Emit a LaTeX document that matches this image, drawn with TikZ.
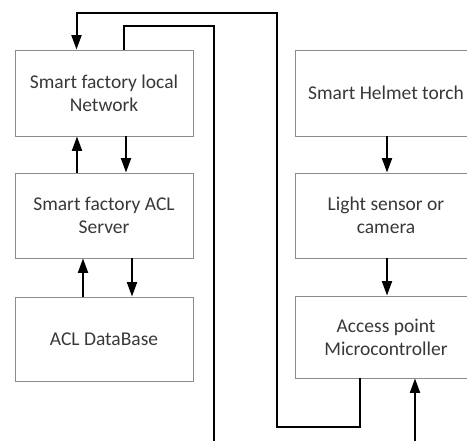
\documentclass[tikz,border=0pt]{standalone}
\usepackage{fontspec}
\setmainfont{Carlito}
\usetikzlibrary{arrows.meta}
\begin{document}
\begin{tikzpicture}[x=1pt,y=-1pt,
  blk/.style={draw=black!45,line width=0.9pt,rectangle,align=center,
    font=\fontsize{19.5}{23}\selectfont,text=black!78,inner sep=0pt},
  conn/.style={line width=2pt,draw=black},
  arr/.style={conn,-{Triangle[width=10pt,length=14.5pt]}}]
\useasboundingbox (0,0) rectangle (467,441);
\clip (0,0) rectangle (467,441);
\node[blk,minimum width=178pt,minimum height=86pt] (net) at (104,93) {Smart factory local\\Network};
\node[blk,minimum width=178pt,minimum height=85pt] (srv) at (104,215.5) {Smart factory ACL\\Server};
\node[blk,minimum width=178pt,minimum height=84pt] (db) at (104,339) {ACL DataBase};
\node[blk,minimum width=182pt,minimum height=86pt] (torch) at (386,93) {Smart Helmet torch};
\node[blk,minimum width=182pt,minimum height=85pt] (sens) at (386,215.5) {Light sensor or\\camera};
\node[blk,minimum width=182pt,minimum height=82pt] (mcu) at (386,337) {Access point\\Microcontroller};
\coordinate (b1) at (214,445);
\coordinate (b2) at (415,445);
% left column arrows
\draw[arr] (srv.north -| 77,0) -- (net.south -| 77,0);
\draw[arr] (net.south -| 126,0) -- (srv.north -| 126,0);
\draw[arr] (db.north -| 83,0) -- (srv.south -| 83,0);
\draw[arr] (srv.south -| 132,0) -- (db.north -| 132,0);
% right column arrows
\draw[arr] (torch.south -| 387,0) -- (sens.north -| 387,0);
\draw[arr] (sens.south -| 387,0) -- (mcu.north -| 387,0);
\draw[arr] (b2) -- (mcu.south -| b2);
% long loops
\draw[arr] (mcu.south -| 359.5,0) |- (276.5,426.7) |- (76.5,12.7) -- (net.north -| 76.5,0);
\draw[conn] (net.north -| 123.5,0) |- (214,25.7) -- (b1);
\end{tikzpicture}
\end{document}
